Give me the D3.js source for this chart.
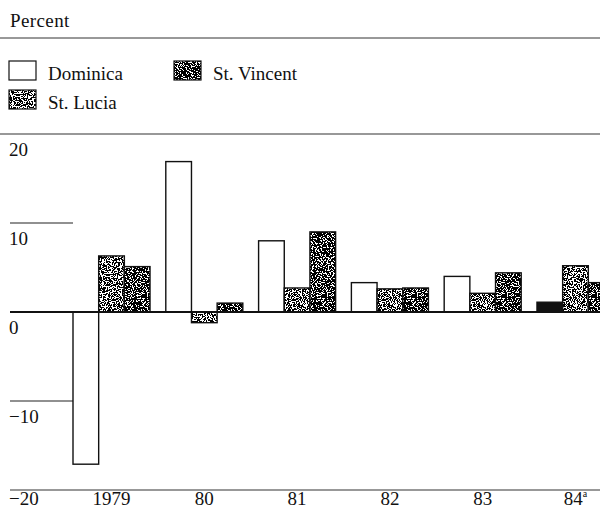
<!DOCTYPE html>
<html>
<head>
<meta charset="utf-8">
<script src="https://cdn.jsdelivr.net/npm/d3@7"></script>
<style>
  body { margin: 0; background: #fff; }
  svg { display: block; }
  text { font-family: "Liberation Serif", "Times New Roman", serif; fill: #111; }
</style>
</head>
<body>
<svg id="chart" width="600" height="510"></svg>
<script>
// Data (percent)
const years = ['1979', '80', '81', '82', '83', '84'];
const seriesNames = ['Dominica', 'St. Lucia', 'St. Vincent'];
const dominica = [-17.1, 16.9, 8.0, 3.3, 4.0, 1.1];
const stLucia = [6.3, -1.2, 2.7, 2.6, 2.1, 5.2];
const stVincent = [5.1, 1.0, 9.0, 2.7, 4.4, 3.3];
const yTicks = [20, 10, 0, -10, -20];

const width = 600;
const svg = d3.select('#chart');

// Grainy stipple fills (printed screen look) built from a noise filter.
// cut = how many of 50 noise buckets stay white
const defs = svg.append('defs');
function stipple(id, cut, seed) {
  const table = d3.range(50).map((i) => (i < cut ? 0 : 1)).join(' ');
  const f = defs.append('filter')
    .attr('id', `${id}-f`)
    .attr('x', 0).attr('y', 0).attr('width', 1).attr('height', 1);
  f.append('feTurbulence')
    .attr('type', 'fractalNoise')
    .attr('baseFrequency', 0.8)
    .attr('numOctaves', 2)
    .attr('seed', seed);
  f.append('feColorMatrix')
    .attr('type', 'matrix')
    .attr('values', '0 0 0 0 0  0 0 0 0 0  0 0 0 0 0  1 0 0 0 0');
  f.append('feComponentTransfer')
    .append('feFuncA').attr('type', 'discrete').attr('tableValues', table);
  const p = defs.append('pattern')
    .attr('id', id)
    .attr('width', 90)
    .attr('height', 90)
    .attr('patternUnits', 'userSpaceOnUse');
  p.append('rect').attr('width', 90).attr('height', 90).attr('fill', '#fff');
  p.append('rect').attr('width', 90).attr('height', 90).attr('fill', '#000')
    .attr('filter', `url(#${id}-f)`);
}
stipple('lucia', 25, 4);
stipple('vincent', 22, 7);

const fills = { Dominica: '#fff', 'St. Lucia': 'url(#lucia)', 'St. Vincent': 'url(#vincent)' };

// Scales
const y = d3.scaleLinear().domain([-20, 20]).range([490, 134]);
const x = d3.scaleBand().domain(years).range([73, 614]).paddingInner(0.17).paddingOuter(0);
const xs = d3.scaleBand().domain(seriesNames).range([0, x.bandwidth()]);

// Header
svg.append('text').attr('x', 10).attr('y', 27).attr('font-size', 19)
  .attr('letter-spacing', 0.4).text('Percent');
svg.append('line').attr('x1', 0).attr('x2', width).attr('y1', 38).attr('y2', 38)
  .attr('stroke', '#333').attr('stroke-width', 1);

// Legend
const legend = [
  { name: 'Dominica', x: 9, y: 61 },
  { name: 'St. Vincent', x: 174, y: 61 },
  { name: 'St. Lucia', x: 9, y: 90 },
];
legend.forEach((d) => {
  svg.append('rect').attr('x', d.x).attr('y', d.y).attr('width', 27).attr('height', 19)
    .attr('fill', fills[d.name]).attr('stroke', '#111').attr('stroke-width', 1.2);
  svg.append('text').attr('x', d.x + 39).attr('y', d.y + 19).attr('font-size', 19)
    .text(d.name);
});

// Frame rules at +20 and -20
svg.append('line').attr('x1', 0).attr('x2', width).attr('y1', y(20)).attr('y2', y(20))
  .attr('stroke', '#333').attr('stroke-width', 1.2);
svg.append('line').attr('x1', 10).attr('x2', width).attr('y1', y(-20)).attr('y2', y(-20))
  .attr('stroke', '#333').attr('stroke-width', 1.2);

// Short tick lines for +10 and -10
[10, -10].forEach((v) => {
  svg.append('line').attr('x1', 10).attr('x2', 73).attr('y1', y(v)).attr('y2', y(v))
    .attr('stroke', '#222').attr('stroke-width', 1.2);
});

// Y labels hang under their lines
svg.append('g').selectAll('text').data(yTicks).join('text')
  .attr('x', 9)
  .attr('y', (d) => y(d) + (d === -20 ? 15 : 22))
  .attr('font-size', 19)
  .text((d) => (d < 0 ? `\u2212${-d}` : d));

// Bars
const rows = [];
years.forEach((yr, i) => {
  rows.push({ year: yr, name: 'Dominica', value: dominica[i] });
  rows.push({ year: yr, name: 'St. Lucia', value: stLucia[i] });
  rows.push({ year: yr, name: 'St. Vincent', value: stVincent[i] });
});

svg.append('g').selectAll('rect').data(rows).join('rect')
  .attr('x', (d) => x(d.year) + xs(d.name))
  .attr('y', (d) => y(Math.max(0, d.value)))
  .attr('width', xs.bandwidth())
  .attr('height', (d) => Math.abs(y(d.value) - y(0)))
  // the 1984 Dominica bar is printed solid black
  .attr('fill', (d) => (d.name === 'Dominica' && d.year === '84' ? '#111' : fills[d.name]))
  .attr('stroke', '#111')
  .attr('stroke-width', 1.4);

// Zero line
svg.append('line').attr('x1', 10).attr('x2', width).attr('y1', y(0)).attr('y2', y(0))
  .attr('stroke', '#111').attr('stroke-width', 2.2);

// X labels
const xl = svg.append('g').selectAll('text').data(years).join('text')
  .attr('x', (d) => x(d) + x.bandwidth() / 2)
  .attr('y', 505)
  .attr('font-size', 19)
  .attr('text-anchor', 'middle')
  .text((d) => d);
xl.filter((d) => d === '84').append('tspan')
  .attr('font-size', 10).attr('dy', -8).text('a');
</script>
</body>
</html>
